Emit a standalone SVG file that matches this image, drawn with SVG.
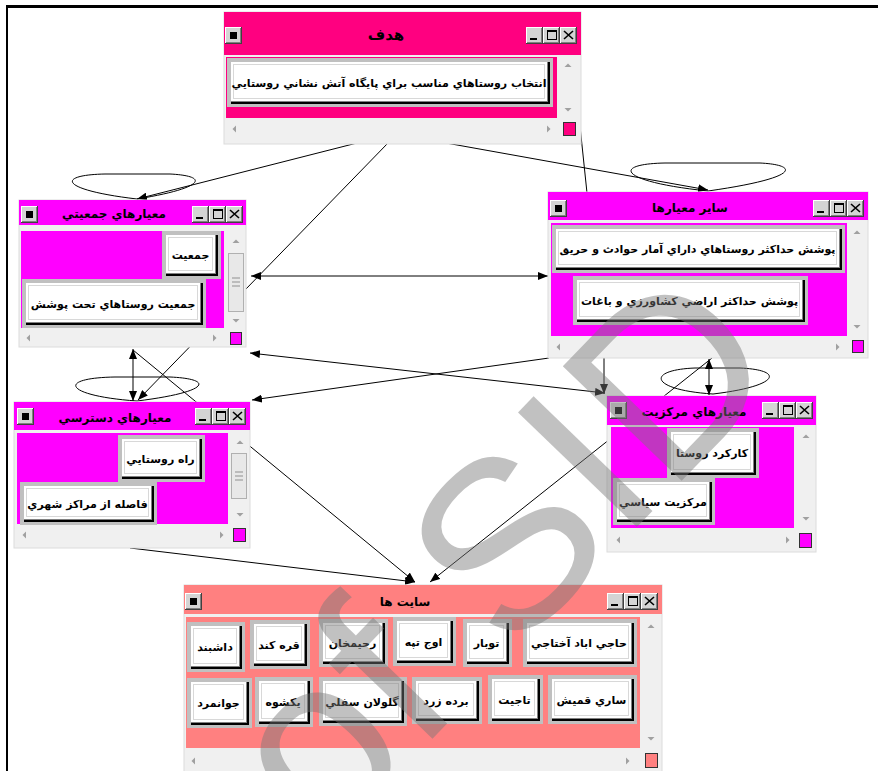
<svg xmlns="http://www.w3.org/2000/svg" width="878" height="771" viewBox="0 0 878 771">
<style>
.fr{fill:#f0f0f0;stroke:#dcdcdc;stroke-width:1}
.hot{fill:#ff0080}
.mag{fill:#ff00ff}
.sal{fill:#ff8080}
.ar{fill:#a0a0a0}
.bf{fill:#c0c0c0}
.bs{fill:#000}
.bg{fill:#808080}
.bw{fill:#fff}
.bi{fill:none;stroke:#d8d8d8;stroke-width:1}
.t{font-family:"DejaVu Sans",sans-serif;font-weight:bold;font-size:11px;text-anchor:middle;fill:#000}
.tt{font-family:"DejaVu Sans",sans-serif;font-weight:bold;font-size:12px;text-anchor:middle;fill:#000}
.c{stroke:#000;stroke-width:1;fill:none}
.a{marker-end:url(#ah)}
.a2{marker-start:url(#ah);marker-end:url(#ah)}
.cs{stroke:#333;stroke-width:1}
.th{fill:#e8e8e8;stroke:#b0b0b0;stroke-width:1}
.wm{font-family:"Liberation Sans",sans-serif;font-size:240px;fill:#787878;opacity:0.45}
</style>
<defs>
<marker id="ah" markerWidth="10" markerHeight="8" refX="10" refY="4" orient="auto-start-reverse" markerUnits="userSpaceOnUse"><path d="M0,0 L10,4 L0,8 z" fill="#000"/></marker>
<g id="cb"><rect width="17" height="17" fill="#404040"/><rect width="16" height="16" fill="#fff"/><rect x="1" y="1" width="15" height="15" fill="#808080"/><rect x="1" y="1" width="14" height="14" fill="#d4d4d4"/></g>
<g id="sys"><use href="#cb"/><rect x="5" y="5" width="7" height="7" fill="#000"/></g>
<g id="ctl"><use href="#cb"/><use href="#cb" x="17"/><use href="#cb" x="34"/><rect x="4" y="11" width="7" height="2" fill="#000"/><rect x="21.5" y="3.5" width="9" height="9" fill="none" stroke="#000"/><rect x="21" y="3" width="10" height="2" fill="#000"/><path d="M38,4 L47,12 M47,4 L38,12" stroke="#000" stroke-width="1.6"/></g>
<path id="up" class="ar" d="M-3.5,2 L3.5,2 L0,-1.5 z"/>
<path id="dn" class="ar" d="M-3.5,-2 L3.5,-2 L0,1.5 z"/>
<path id="lt" class="ar" d="M2,-3.5 L2,3.5 L-1.5,0 z"/>
<path id="rt" class="ar" d="M-2,-3.5 L-2,3.5 L1.5,0 z"/>
</defs>
<rect x="6" y="5" width="872" height="3" fill="#000"/>
<rect x="6" y="5" width="2" height="766" fill="#000"/>

<g id="connectors">
<path class="c a" d="M357,143 L137,199"/>
<path class="c a" d="M388,143 L138,400"/>
<path class="c a" d="M446,143 L708,190"/>
<path class="c" d="M580,126 L587,193"/>
<path class="c" d="M137,199 C60,190 55,175 105,174 L170,174 C210,176 205,188 137,199"/>
<path class="c" d="M708,191 C620,182 610,164 665,163 L760,163 C800,165 800,178 708,191"/>
<path class="c a2" d="M251,276 L548,276"/>
<path class="c a2" d="M250,353 L605,393"/>
<path class="c a" d="M549,358 L252,400"/>
<path class="c a" d="M604,358 L604,394"/>
<path class="c" d="M137,401 C65,396 55,378 115,377 L170,377 C215,379 210,392 137,401"/>
<path class="c a2" d="M133,349 L133,401"/>
<path class="c a" d="M133,350 L415,582"/>
<path class="c a" d="M130,548 L415,582"/>
<path class="c" d="M713,394 C650,390 645,370 695,368 L740,368 C785,370 780,386 713,394"/>
<path class="c a2" d="M709,359 L709,395"/>
<path class="c a" d="M712,358 L430,582"/>
</g>

<g id="n-hadaf">
<rect class="fr" x="224" y="12" width="357" height="132"/>
<rect class="hot" x="224" y="12" width="357" height="43"/>
<use href="#sys" x="225" y="27"/>
<use href="#ctl" x="526" y="27"/>
<text class="tt" x="386" y="40" style="font-size:15px">هدف</text>
<rect class="hot" x="226" y="57" width="331" height="61"/>
<use href="#up" x="568" y="65"/><use href="#dn" x="568" y="110"/>
<use href="#lt" x="234" y="129"/><use href="#rt" x="549" y="129"/>
<rect class="hot cs" x="563.5" y="122.5" width="12" height="13"/>
<g transform="translate(227,58)"><rect class="bf" width="326" height="49"/><rect class="bs" x="4" y="4" width="319" height="42"/><rect class="bg" x="4" y="4" width="317" height="40"/><rect class="bw" x="4" y="4" width="316" height="39"/><rect class="bi" x="6.5" y="6.5" width="311" height="34"/><text class="t" x="162" y="29">انتخاب روستاهاي مناسب براي پايگاه آتش نشاني روستايي</text></g>
</g>

<g id="n-jamiyati">
<rect class="fr" x="19" y="200" width="227" height="147"/>
<rect class="mag" x="19" y="200" width="227" height="25"/>
<use href="#sys" x="21" y="206"/>
<use href="#ctl" x="192" y="206"/>
<text class="tt" x="114" y="218">معيارهاي جمعيتي</text>
<rect class="mag" x="21" y="231" width="203" height="97"/>
<use href="#up" x="236" y="241"/><use href="#dn" x="236" y="321"/>
<rect class="th" x="228.5" y="253.5" width="15" height="58"/>
<path d="M232,278 H240 M232,282 H240 M232,286 H240" stroke="#909090"/>
<use href="#lt" x="28" y="338"/><use href="#rt" x="215" y="338"/>
<rect class="mag cs" x="230.5" y="332.5" width="11" height="12"/>
<g transform="translate(162,231)"><rect class="bf" width="59" height="48"/><rect class="bs" x="4" y="4" width="52" height="41"/><rect class="bg" x="4" y="4" width="50" height="39"/><rect class="bw" x="4" y="4" width="49" height="38"/><rect class="bi" x="6.5" y="6.5" width="44" height="33"/><text class="t" x="28.5" y="28">جمعيت</text></g>
<g transform="translate(22,279)"><rect class="bf" width="184" height="49"/><rect class="bs" x="4" y="4" width="177" height="42"/><rect class="bg" x="4" y="4" width="175" height="40"/><rect class="bw" x="4" y="4" width="174" height="39"/><rect class="bi" x="6.5" y="6.5" width="169" height="34"/><text class="t" x="91" y="28.5">جمعيت روستاهاي تحت پوشش</text></g>
</g>

<g id="n-sayer">
<rect class="fr" x="548" y="192" width="320" height="166"/>
<rect class="mag" x="548" y="192" width="320" height="28"/>
<use href="#sys" x="550" y="200"/>
<use href="#ctl" x="813" y="200"/>
<text class="tt" x="690" y="212">ساير معيارها</text>
<rect class="mag" x="551" y="223" width="296" height="113"/>
<use href="#up" x="857" y="232"/><use href="#dn" x="857" y="327"/>
<use href="#lt" x="558" y="347"/><use href="#rt" x="838" y="347"/>
<rect class="mag cs" x="852.5" y="340.5" width="11" height="12"/>
<g transform="translate(552,225)"><rect class="bf" width="293" height="48"/><rect class="bs" x="4" y="4" width="286" height="41"/><rect class="bg" x="4" y="4" width="284" height="39"/><rect class="bw" x="4" y="4" width="283" height="38"/><rect class="bi" x="6.5" y="6.5" width="278" height="33"/><text class="t" x="145.5" y="28">پوشش حداكثر روستاهاي داراي آمار حوادث و حريق</text></g>
<g transform="translate(573,276)"><rect class="bf" width="235" height="49"/><rect class="bs" x="4" y="4" width="228" height="42"/><rect class="bg" x="4" y="4" width="226" height="40"/><rect class="bw" x="4" y="4" width="225" height="39"/><rect class="bi" x="6.5" y="6.5" width="220" height="34"/><text class="t" x="116.5" y="28.5">پوشش حداكثر اراضي كشاورزي و باغات</text></g>
</g>

<g id="n-dastresi">
<rect class="fr" x="14" y="402" width="236" height="146"/>
<rect class="mag" x="14" y="402" width="236" height="28"/>
<use href="#sys" x="17" y="408"/>
<use href="#ctl" x="195" y="408"/>
<text class="tt" x="115" y="422">معيارهاي دسترسي</text>
<rect class="mag" x="17" y="433" width="211" height="91"/>
<use href="#up" x="240" y="442"/><use href="#dn" x="240" y="515"/>
<rect class="th" x="231.5" y="453.5" width="15" height="45"/>
<path d="M235,472 H243 M235,476 H243 M235,480 H243" stroke="#909090"/>
<use href="#lt" x="24" y="535"/><use href="#rt" x="222" y="535"/>
<rect class="mag cs" x="233.5" y="528.5" width="12" height="13"/>
<g transform="translate(118,435)"><rect class="bf" width="87" height="47"/><rect class="bs" x="4" y="4" width="80" height="40"/><rect class="bg" x="4" y="4" width="78" height="38"/><rect class="bw" x="4" y="4" width="77" height="37"/><rect class="bi" x="6.5" y="6.5" width="72" height="32"/><text class="t" x="42.5" y="27.5">راه روستايي</text></g>
<g transform="translate(20,482)"><rect class="bf" width="137" height="43"/><rect class="bs" x="4" y="4" width="130" height="36"/><rect class="bg" x="4" y="4" width="128" height="34"/><rect class="bw" x="4" y="4" width="127" height="33"/><rect class="bi" x="6.5" y="6.5" width="122" height="28"/><text class="t" x="67.5" y="25.5">فاصله از مراكز شهري</text></g>
</g>

<g id="n-markaziat">
<rect class="fr" x="607" y="396" width="209" height="156"/>
<rect class="mag" x="607" y="396" width="209" height="29"/>
<use href="#sys" x="610" y="402"/>
<use href="#ctl" x="762" y="402"/>
<text class="tt" x="694" y="416">معيارهاي مركزيت</text>
<rect class="mag" x="611" y="427" width="183" height="101"/>
<use href="#up" x="806" y="436"/><use href="#dn" x="806" y="519"/>
<use href="#lt" x="618" y="540"/><use href="#rt" x="788" y="540"/>
<rect class="mag cs" x="799.5" y="533.5" width="12" height="14"/>
<g transform="translate(667,428)"><rect class="bf" width="92" height="50"/><rect class="bs" x="4" y="4" width="85" height="43"/><rect class="bg" x="4" y="4" width="83" height="41"/><rect class="bw" x="4" y="4" width="82" height="40"/><rect class="bi" x="6.5" y="6.5" width="77" height="35"/><text class="t" x="45" y="29">كاركرد روستا</text></g>
<g transform="translate(613,478)"><rect class="bf" width="102" height="47"/><rect class="bs" x="4" y="4" width="95" height="40"/><rect class="bg" x="4" y="4" width="93" height="38"/><rect class="bw" x="4" y="4" width="92" height="37"/><rect class="bi" x="6.5" y="6.5" width="87" height="32"/><text class="t" x="50" y="27.5">مركزيت سياسي</text></g>
</g>

<g id="n-sites">
<rect class="fr" x="184" y="585" width="478" height="190"/>
<rect class="sal" x="184" y="585" width="478" height="29"/>
<use href="#sys" x="185" y="593"/>
<use href="#ctl" x="607" y="593"/>
<text class="tt" x="405" y="606">سايت ها</text>
<rect class="sal" x="186" y="617" width="454" height="131"/>
<use href="#up" x="651" y="626"/><use href="#dn" x="651" y="739"/>
<use href="#lt" x="193" y="761"/><use href="#rt" x="628" y="761"/>
<rect class="sal cs" x="645.5" y="753.5" width="12" height="14"/>
<g transform="translate(187,622)"><rect class="bf" width="58" height="50"/><rect class="bs" x="4" y="4" width="51" height="43"/><rect class="bg" x="4" y="4" width="49" height="41"/><rect class="bw" x="4" y="4" width="48" height="40"/><rect class="bi" x="6.5" y="6.5" width="43" height="35"/><text class="t" x="28" y="29">داشبند</text></g>
<g transform="translate(250,620)"><rect class="bf" width="60" height="49"/><rect class="bs" x="4" y="4" width="53" height="42"/><rect class="bg" x="4" y="4" width="51" height="40"/><rect class="bw" x="4" y="4" width="50" height="39"/><rect class="bi" x="6.5" y="6.5" width="45" height="34"/><text class="t" x="29" y="28.5">قره كند</text></g>
<g transform="translate(319,619)"><rect class="bf" width="69" height="48"/><rect class="bs" x="4" y="4" width="62" height="41"/><rect class="bg" x="4" y="4" width="60" height="39"/><rect class="bw" x="4" y="4" width="59" height="38"/><rect class="bi" x="6.5" y="6.5" width="54" height="33"/><text class="t" x="33.5" y="28">رحيمخان</text></g>
<g transform="translate(393,617)"><rect class="bf" width="63" height="49"/><rect class="bs" x="4" y="4" width="56" height="42"/><rect class="bg" x="4" y="4" width="54" height="40"/><rect class="bw" x="4" y="4" width="53" height="39"/><rect class="bi" x="6.5" y="6.5" width="48" height="34"/><text class="t" x="30.5" y="28.5">اوج تپه</text></g>
<g transform="translate(463,619)"><rect class="bf" width="49" height="48"/><rect class="bs" x="4" y="4" width="42" height="41"/><rect class="bg" x="4" y="4" width="40" height="39"/><rect class="bw" x="4" y="4" width="39" height="38"/><rect class="bi" x="6.5" y="6.5" width="34" height="33"/><text class="t" x="23.5" y="28">توبار</text></g>
<g transform="translate(523,619)"><rect class="bf" width="114" height="48"/><rect class="bs" x="4" y="4" width="107" height="41"/><rect class="bg" x="4" y="4" width="105" height="39"/><rect class="bw" x="4" y="4" width="104" height="38"/><rect class="bi" x="6.5" y="6.5" width="99" height="33"/><text class="t" x="56" y="28">حاجي اباد آختاجي</text></g>
<g transform="translate(187,678)"><rect class="bf" width="65" height="50"/><rect class="bs" x="4" y="4" width="58" height="43"/><rect class="bg" x="4" y="4" width="56" height="41"/><rect class="bw" x="4" y="4" width="55" height="40"/><rect class="bi" x="6.5" y="6.5" width="50" height="35"/><text class="t" x="31.5" y="29">جوانمرد</text></g>
<g transform="translate(255,677)"><rect class="bf" width="58" height="50"/><rect class="bs" x="4" y="4" width="51" height="43"/><rect class="bg" x="4" y="4" width="49" height="41"/><rect class="bw" x="4" y="4" width="48" height="40"/><rect class="bi" x="6.5" y="6.5" width="43" height="35"/><text class="t" x="28" y="29">يكشوه</text></g>
<g transform="translate(319,677)"><rect class="bf" width="88" height="49"/><rect class="bs" x="4" y="4" width="81" height="42"/><rect class="bg" x="4" y="4" width="79" height="40"/><rect class="bw" x="4" y="4" width="78" height="39"/><rect class="bi" x="6.5" y="6.5" width="73" height="34"/><text class="t" x="43" y="28.5">گلولان سفلي</text></g>
<g transform="translate(412,677)"><rect class="bf" width="70" height="47"/><rect class="bs" x="4" y="4" width="63" height="40"/><rect class="bg" x="4" y="4" width="61" height="38"/><rect class="bw" x="4" y="4" width="60" height="37"/><rect class="bi" x="6.5" y="6.5" width="55" height="32"/><text class="t" x="34" y="27.5">برده زرد</text></g>
<g transform="translate(488,675)"><rect class="bf" width="55" height="49"/><rect class="bs" x="4" y="4" width="48" height="42"/><rect class="bg" x="4" y="4" width="46" height="40"/><rect class="bw" x="4" y="4" width="45" height="39"/><rect class="bi" x="6.5" y="6.5" width="40" height="34"/><text class="t" x="26.5" y="28.5">تاجيت</text></g>
<g transform="translate(548,675)"><rect class="bf" width="89" height="49"/><rect class="bs" x="4" y="4" width="82" height="42"/><rect class="bg" x="4" y="4" width="80" height="40"/><rect class="bw" x="4" y="4" width="79" height="39"/><rect class="bi" x="6.5" y="6.5" width="74" height="34"/><text class="t" x="43.5" y="28.5">ساري قميش</text></g>
</g>

<text class="wm" transform="translate(325,850) rotate(-46)">of SID</text>
</svg>
